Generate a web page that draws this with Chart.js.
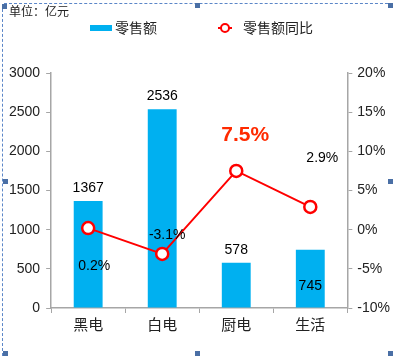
<!DOCTYPE html>
<html>
<head>
<meta charset="utf-8">
<script src="https://cdn.jsdelivr.net/npm/chart.js@4"></script>
<style>
  html, body { margin: 0; padding: 0; background: #fff; }
  #wrap { position: relative; width: 393px; height: 356px; overflow: hidden; }
  canvas { position: absolute; left: 0; top: 0; }
  .dl { position: absolute; }
  .h { position: absolute; width: 5px; height: 5px; background: #4A6FA5; }
</style>
</head>
<body>
<div id="wrap">
  <canvas id="c" width="393" height="356"></canvas>
  <div class="dl" style="left:2px;top:4px;width:0;height:352px;border-left:1px dashed #5B86C8;"></div>
  <div class="dl" style="left:4px;top:3px;width:389px;height:0;border-top:1px dashed #5B86C8;"></div>
  <div class="h" style="left:2px;top:4px;"></div>
  <div class="h" style="left:195px;top:3px;"></div>
  <div class="h" style="left:388px;top:3px;"></div>
  <div class="h" style="left:3px;top:179px;"></div>
  <div class="h" style="left:388px;top:179px;"></div>
  <div class="h" style="left:3px;top:351px;"></div>
  <div class="h" style="left:195px;top:351px;"></div>
  <div class="h" style="left:388px;top:351px;"></div>
</div>
<script>
const categories = ['黑电', '白电', '厨电', '生活'];
const salesValues = [1367, 2536, 578, 745];           // 零售额 (亿元)
const growthValues = [0.2, -3.1, 7.5, 2.9];           // 零售额同比 (%)
const leftTicks = [0, 500, 1000, 1500, 2000, 2500, 3000];
const rightTicks = [-10, -5, 0, 5, 10, 15, 20];
const unitLabel = '单位：亿元';
const barName = '零售额';
const lineName = '零售额同比';

// label styling (offsets in px relative to the mark)
const barLabelOffsets = [[0, -13], [0, -13], [0, -13], [0, 36]];
const lineLabelOffsets = [[6, 38], [5, -19], [9, -36], [12, -49]];

const FONT = '"Liberation Sans", Arial, "Noto Sans CJK SC", sans-serif';
const BLUE = '#00B0F0';
const RED = '#FF0000';

const labelsPlugin = {
  id: 'customLabels',
  afterDatasetsDraw(chart) {
    const ctx = chart.ctx;
    ctx.save();
    ctx.textAlign = 'center';
    ctx.textBaseline = 'middle';
    const barMeta = chart.getDatasetMeta(0);
    barMeta.data.forEach((el, i) => {
      ctx.font = '14px ' + FONT;
      ctx.fillStyle = '#000';
      ctx.fillText(String(salesValues[i]), el.x + barLabelOffsets[i][0], el.y + barLabelOffsets[i][1]);
    });
    const lineMeta = chart.getDatasetMeta(1);
    lineMeta.data.forEach((el, i) => {
      const txt = growthValues[i].toFixed(1) + '%';
      if (i === 2) {
        ctx.font = 'bold 21px ' + FONT;
        ctx.fillStyle = '#FF2A00';
      } else {
        ctx.font = '14px ' + FONT;
        ctx.fillStyle = '#000';
      }
      ctx.fillText(txt, el.x + lineLabelOffsets[i][0], el.y + lineLabelOffsets[i][1]);
    });
    ctx.restore();
  },
  afterDraw(chart) {
    const ctx = chart.ctx;
    ctx.save();
    ctx.textBaseline = 'middle';
    ctx.textAlign = 'left';
    ctx.fillStyle = '#222';
    ctx.font = '12px "Noto Sans CJK SC", sans-serif';
    ctx.fillText(unitLabel, 9, 11);
    const ly = 28;
    ctx.fillStyle = BLUE;
    ctx.fillRect(90, ly - 3, 22, 6);
    ctx.font = '14px "Noto Sans CJK SC", sans-serif';
    ctx.fillStyle = '#222';
    ctx.fillText(barName, 115, ly);
    ctx.strokeStyle = RED;
    ctx.lineWidth = 2;
    ctx.beginPath();
    ctx.moveTo(218, ly); ctx.lineTo(232, ly);
    ctx.stroke();
    ctx.beginPath();
    ctx.arc(225, ly, 4, 0, Math.PI * 2);
    ctx.fillStyle = '#fff';
    ctx.fill();
    ctx.stroke();
    ctx.fillStyle = '#222';
    ctx.fillText(lineName, 243, ly);
    ctx.restore();
  }
};

new Chart(document.getElementById('c'), {
  data: {
    labels: categories,
    datasets: [
      {
        type: 'bar',
        label: barName,
        data: salesValues,
        backgroundColor: BLUE,
        yAxisID: 'y',
        barPercentage: 0.78,
        categoryPercentage: 0.5,
        order: 2
      },
      {
        type: 'line',
        label: lineName,
        data: growthValues,
        borderColor: RED,
        borderWidth: 2,
        pointRadius: 6,
        pointBorderWidth: 2.5,
        pointBackgroundColor: '#fff',
        pointBorderColor: RED,
        yAxisID: 'y1',
        tension: 0,
        order: 1
      }
    ]
  },
  options: {
    responsive: false,
    animation: false,
    layout: { padding: { left: 3, right: -2, top: 73, bottom: 21 } },
    plugins: {
      legend: { display: false },
      tooltip: { enabled: false }
    },
    scales: {
      x: {
        offset: true,
        border: { color: '#A6A6A6', width: 1.5 },
        grid: { offset: true, drawOnChartArea: false, drawTicks: true, tickLength: 5, color: '#A6A6A6' },
        ticks: { color: '#222', font: { size: 15, family: '"Noto Sans CJK SC", sans-serif' }, padding: 2 }
      },
      y: {
        position: 'left',
        min: 0, max: 3000,
        afterBuildTicks(scale) { scale.ticks = leftTicks.map(v => ({ value: v })); },
        border: { color: '#A6A6A6', width: 1.5 },
        grid: { drawOnChartArea: false, drawTicks: true, tickLength: 5, color: '#A6A6A6' },
        ticks: { color: '#222', font: { size: 14, family: FONT }, padding: 6, callback: v => String(v) }
      },
      y1: {
        position: 'right',
        min: -10, max: 20,
        afterBuildTicks(scale) { scale.ticks = rightTicks.map(v => ({ value: v })); },
        border: { color: '#A6A6A6', width: 1.5 },
        grid: { drawOnChartArea: false, drawTicks: true, tickLength: 5, color: '#A6A6A6' },
        ticks: { color: '#222', font: { size: 14, family: FONT }, padding: 5, callback: v => v + '%' }
      }
    }
  },
  plugins: [labelsPlugin]
});
</script>
</body>
</html>
